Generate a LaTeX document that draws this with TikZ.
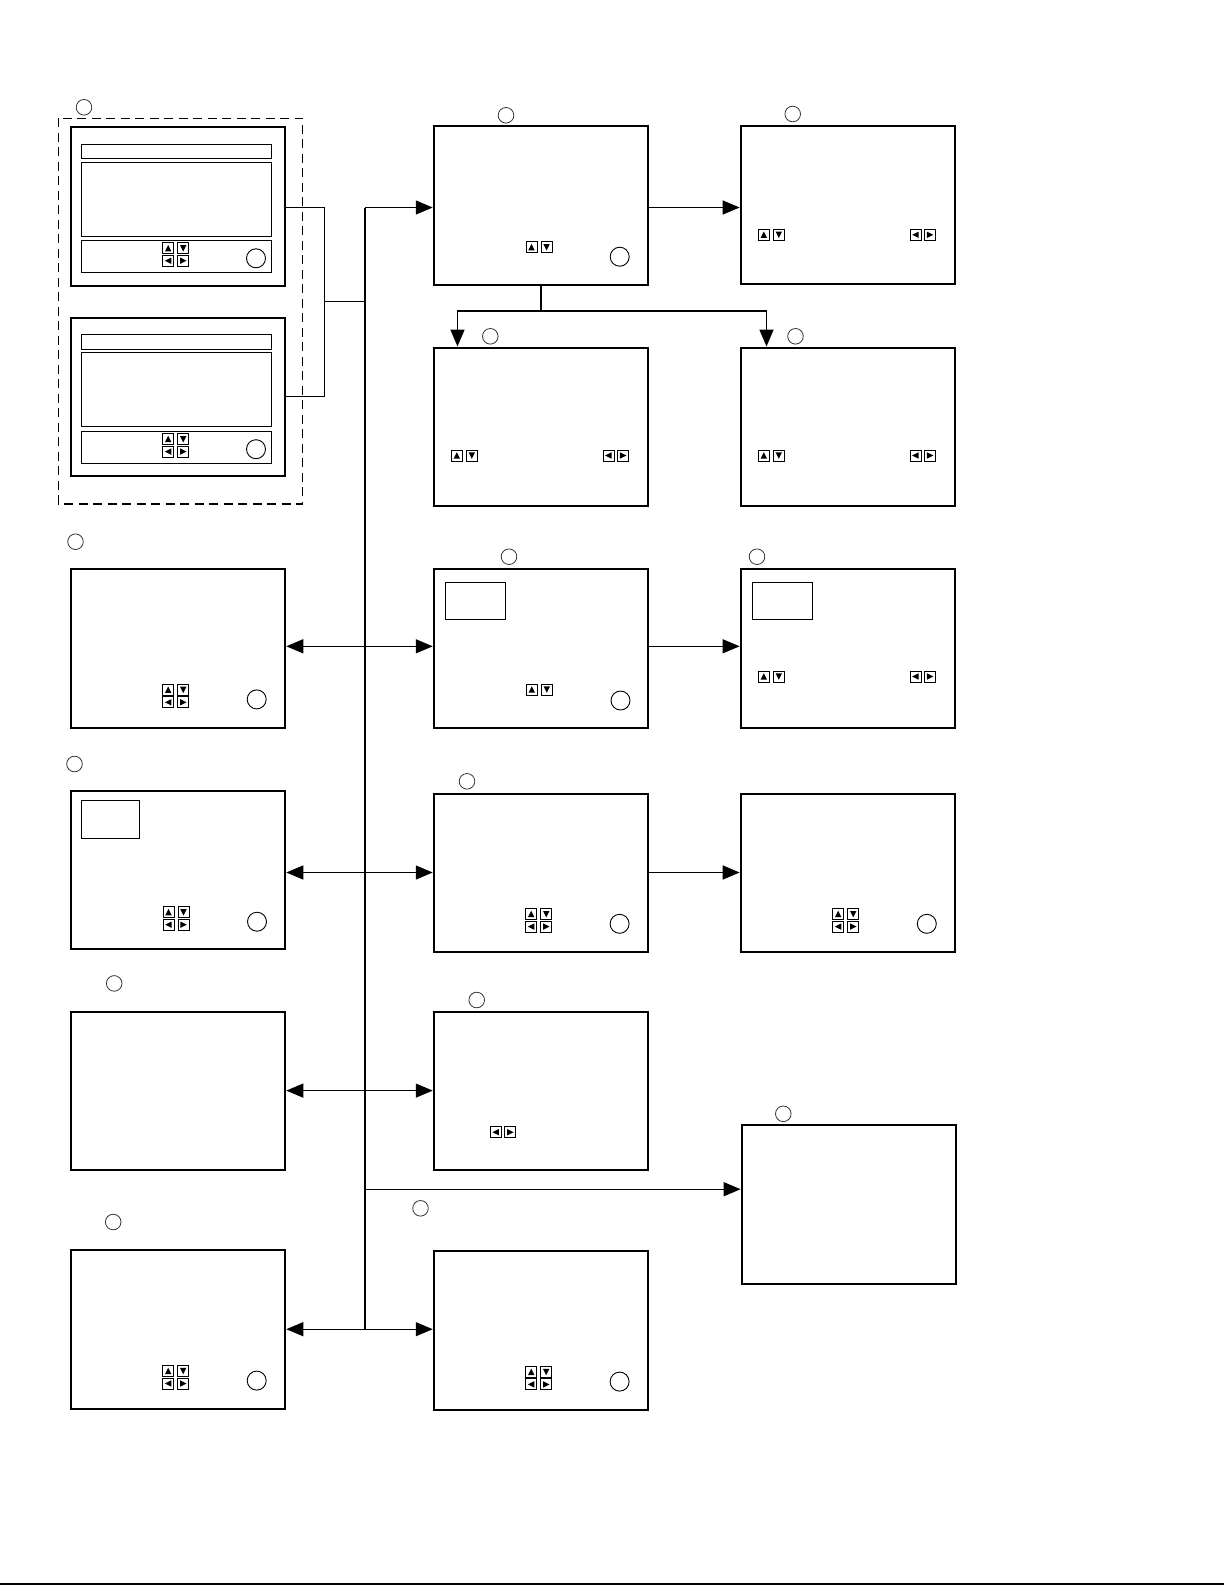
\documentclass[tikz,border=0pt]{standalone}
\usetikzlibrary{arrows.meta,calc}
\tikzset{
  scr/.style={draw,line width=2pt,minimum width=214.5pt,minimum height=158.5pt,inner sep=0pt,fill=none},
  conn/.style={line width=1.25pt},
  arr/.style={line width=1.25pt,-{Triangle[length=17pt,width=14pt]}},
  dbl/.style={line width=1.25pt,{Triangle[length=17pt,width=14pt]}-{Triangle[length=17pt,width=14pt]}},
  brk/.style={line width=1pt},
  btn/.style={line width=0.9pt},
  thinbox/.style={line width=1pt},
  lab/.style={line width=0.8pt,draw=black!80},
  knob/.style={line width=0.9pt},
}
\newcommand\bU[2]{\draw[btn] (#1,#2) rectangle (#1+11,#2+11); \fill (#1+5.5,#2+2.2) -- (#1+2.3,#2+8.6) -- (#1+8.7,#2+8.6) -- cycle;}
\newcommand\bD[2]{\draw[btn] (#1,#2) rectangle (#1+11,#2+11); \fill (#1+5.5,#2+8.8) -- (#1+2.3,#2+2.4) -- (#1+8.7,#2+2.4) -- cycle;}
\newcommand\bL[2]{\draw[btn] (#1,#2) rectangle (#1+11,#2+11); \fill (#1+2.2,#2+5.5) -- (#1+8.6,#2+2.3) -- (#1+8.6,#2+8.7) -- cycle;}
\newcommand\bR[2]{\draw[btn] (#1,#2) rectangle (#1+11,#2+11); \fill (#1+8.8,#2+5.5) -- (#1+2.4,#2+2.3) -- (#1+2.4,#2+8.7) -- cycle;}
\newcommand\bUD[2]{\bU{#1}{#2}\bD{#1+15}{#2}}
\newcommand\bLR[2]{\bL{#1}{#2}\bR{#1+14.5}{#2}}
\newcommand\bQuad[2]{\bU{#1}{#2}\bD{#1+15}{#2}\bL{#1}{#2+12.5}\bR{#1+15}{#2+12.5}}
\newcommand\labc[2]{\draw[lab] (#1,#2) circle (7.8pt);}
\newcommand\knobc[2]{\draw[knob] (#1,#2) circle (9.5pt);}
\begin{document}
\begin{tikzpicture}[x=1pt,y=-1pt]
\useasboundingbox (0,0) rectangle (1225,1585);

% dashed group
\draw[line width=1.3pt,dash pattern=on 9pt off 5.5pt] (58.3,118.3) rectangle (302.7,504);
\labc{84}{107.3}

% boxes
\node[scr] (g1) at (178,206.3) {};
\node[scr] (g2) at (178,397.2) {};
\node[scr] (midA) at (541,205.5) {};
\node[scr] (rightA) at (847.9,205.2) {};
\node[scr] (midB) at (541,426.8) {};
\node[scr] (rightB) at (847.9,426.8) {};
\node[scr] (leftC) at (178,648.3) {};
\node[scr] (midC) at (541,648.5) {};
\node[scr] (rightC) at (847.9,648.5) {};
\node[scr] (leftD) at (178,869.8) {};
\node[scr] (midD) at (541,873.2) {};
\node[scr] (rightD) at (847.9,873.2) {};
\node[scr] (leftE) at (178,1091) {};
\node[scr] (midE) at (541,1091) {};
\node[scr] (lone) at (848.9,1204.7) {};
\node[scr] (leftF) at (178,1329.5) {};
\node[scr] (midF) at (541,1330.7) {};

% group box internals
\foreach \t in {126.7,317.6}{
  \draw[thinbox] (81.7,\t+17.3) rectangle (271.7,\t+31.6);
  \draw[thinbox] (81.7,\t+35.3) rectangle (271.7,\t+109.3);
  \draw[thinbox] (81.7,\t+114) rectangle (271.7,\t+145.6);
}
\bQuad{162.7}{242.7}
\knobc{256}{258.3}
\bQuad{162.7}{433.6}
\knobc{256}{449.2}

% row A
\labc{506}{115.3}
\bUD{526}{241.7}
\knobc{619.7}{256.7}
\labc{792.7}{114}
\bUD{758.3}{229.3}
\bLR{910}{229.3}

% row B
\labc{490.3}{336.3}
\bUD{451.3}{450}
\bLR{603}{450}
\labc{795.5}{336.3}
\bUD{758.3}{450}
\bLR{910}{450}

% row C
\labc{75.5}{541.7}
\bQuad{162.7}{684.3}
\knobc{256.7}{699.4}
\labc{509}{556.7}
\draw[thinbox] (445,582.3) rectangle (505,619.3);
\bUD{526.3}{684}
\knobc{620.5}{700.5}
\labc{757}{556.7}
\draw[thinbox] (752,582.3) rectangle (812,619.3);
\bUD{758.3}{671}
\bLR{910}{671}

% row D
\labc{74.5}{764}
\draw[thinbox] (81,800.3) rectangle (139.3,838.3);
\bQuad{163}{906.7}
\knobc{257}{921.7}
\labc{467}{781.3}
\bQuad{525.7}{908.6}
\knobc{619.6}{923.8}
\bQuad{832.7}{908.6}
\knobc{926.8}{923.8}

% row E
\labc{114.2}{983.4}
\labc{476.7}{1000}
\bLR{490.3}{1126.7}
\labc{783.3}{1113.8}

% row F
\labc{113.2}{1222}
\bQuad{162.7}{1365.5}
\knobc{256.7}{1380.6}
\labc{420.5}{1208.3}
\bQuad{525.7}{1366.4}
\knobc{619.6}{1381.6}

% connectors
\coordinate (cA) at (365,207.5);
\coordinate (cG) at (365,301.7);
\coordinate (cC) at (365,646.3);
\coordinate (cD) at (365,872.5);
\coordinate (cE) at (365,1090.6);
\coordinate (cL) at (365,1189.2);
\coordinate (cF) at (365,1329.2);
\coordinate (br1) at (324,207.7);
\coordinate (brm) at (324,301.7);
\coordinate (br2) at (324,396.7);
\coordinate (split) at (541,310.8);
\coordinate (sl) at (457.5,310.8);
\coordinate (sr) at (766.5,310.8);

\draw[brk] (br1 -| g1.east) -- (br1) -- (br2) -- (br2 -| g2.east);
\draw[brk] (brm) -- (cG);
\draw[line width=1.5pt] (cA) -- (cF);
\draw[arr] (cA) -- (cA -| midA.west);
\draw[arr] (cA -| midA.east) -- (cA -| rightA.west);
\draw[conn,line width=1.7pt] (midA.south) -- (split);
\draw[arr,line width=1.7pt] (split) -- (sl) -- (sl |- midB.north);
\draw[arr,line width=1.7pt] (split) -- (sr) -- (sr |- rightB.north);
\draw[dbl] (cC -| leftC.east) -- (cC -| midC.west);
\draw[arr] (cC -| midC.east) -- (cC -| rightC.west);
\draw[dbl] (cD -| leftD.east) -- (cD -| midD.west);
\draw[arr,line width=1.7pt] (cD -| midD.east) -- (cD -| rightD.west);
\draw[dbl] (cE -| leftE.east) -- (cE -| midE.west);
\draw[arr] (cL) -- (cL -| lone.west);
\draw[dbl] (cF -| leftF.east) -- (cF -| midF.west);

% bottom rule
\draw[line width=1.6pt] (0,1583.8) -- (1224,1583.8);
\end{tikzpicture}
\end{document}
